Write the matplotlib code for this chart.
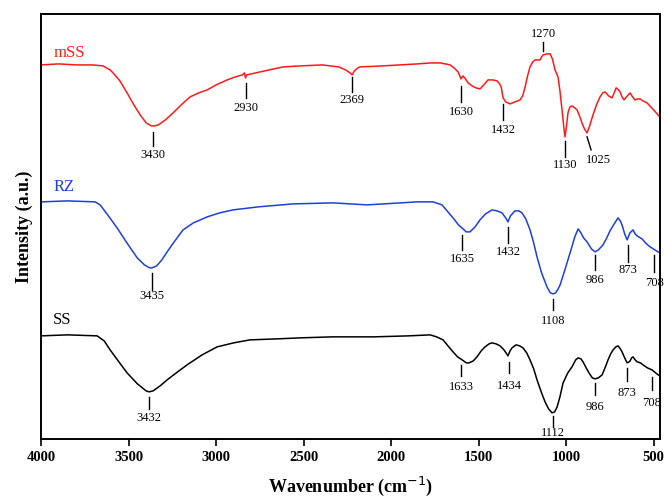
import matplotlib
matplotlib.use("Agg")
import matplotlib.pyplot as plt

plt.rcParams["font.family"] = ["Liberation Serif", "DejaVu Serif"]

# Spectra (wavenumber in cm-1, intensity in arbitrary units)
mss_wn = [4000, 3900, 3800, 3709, 3646, 3606, 3589, 3550, 3509, 3470, 3434, 3400,
          3370, 3354, 3330, 3290, 3246, 3200, 3149, 3100, 3051, 3000, 2937, 2890,
          2850, 2838, 2832, 2825, 2749, 2617, 2520, 2394, 2300, 2260, 2235, 2223,
          2210, 2190, 2177, 2050, 1949, 1850, 1771, 1720, 1690, 1663, 1640, 1617,
          1605, 1600, 1589, 1575, 1560, 1537, 1515, 1492, 1470, 1446, 1420, 1394,
          1380, 1371, 1360, 1345, 1320, 1305, 1292, 1263, 1248, 1234, 1220, 1206,
          1190, 1177, 1160, 1149, 1140, 1131, 1110, 1091, 1078, 1063, 1046, 1035,
          1023, 1013, 1006, 998, 989, 978, 966, 950, 937, 923, 909, 895, 880, 865,
          846, 826, 806, 790, 777, 757, 737, 725, 714, 700, 691, 680, 669, 650,
          634, 620, 606, 590, 577, 560, 537, 505, 474, 463]
mss_int = [374, 375, 374, 374, 373, 369, 366, 358, 346, 334, 324, 316,
           313, 313, 314, 319, 326, 334, 342, 346, 349, 354, 359, 362,
           364, 366, 361, 364, 367, 372, 373, 374, 372, 369, 366, 364,
           368, 371, 372, 373, 374, 375, 376, 376, 375, 374, 371, 367,
           362, 360, 363, 360, 356, 353, 351, 350, 354, 359, 359, 358,
           355, 352, 341, 337, 335, 336, 337, 339, 343, 352, 363, 372,
           377, 379, 379, 379, 382, 384, 385, 385, 380, 369, 362, 348,
           329, 312, 302, 312, 326, 332, 333, 331, 329, 323, 316, 310, 306, 313,
           324, 334, 342, 346, 347, 343, 341, 346, 351, 349, 347, 342, 339, 343,
           346, 342, 339, 340, 340, 338, 336, 330, 324, 321]

rz_wn = [4000, 3850, 3691, 3663, 3620, 3566, 3510, 3451, 3410, 3380, 3366, 3340,
         3310, 3280, 3240, 3189, 3130, 3051, 2980, 2903, 2760, 2560, 2331, 2137,
         1852, 1760, 1709, 1680, 1646, 1615, 1589, 1570, 1549, 1520, 1492, 1460,
         1423, 1395, 1366, 1345, 1332, 1318, 1292, 1270, 1252, 1230, 1206, 1185,
         1166, 1140, 1109, 1090, 1074, 1060, 1045, 1034, 1005, 977, 950, 931,
         915, 900, 880, 855, 834, 815, 789, 770, 749, 725, 703, 690, 680, 665,
         651, 635, 617, 605, 594, 566, 540, 520, 474, 463]
rz_int = [237, 238, 237, 234, 224, 211, 196, 181, 174, 171, 171, 173,
          179, 187, 197, 209, 216, 222, 226, 229, 232, 235, 236, 234,
          237, 237, 234, 228, 221, 214, 210, 207, 207, 212, 219, 225,
          229, 228, 226, 221, 217, 223, 228, 228, 226, 220, 209, 196,
          182, 166, 152, 146, 145, 146, 150, 154, 170, 186, 202, 210,
          206, 201, 197, 190, 187, 189, 194, 200, 208, 215, 221, 218, 214, 205,
          199, 206, 209, 205, 203, 200, 195, 192, 187, 186]

ss_wn = [4000, 3850, 3680, 3640, 3606, 3560, 3509, 3450, 3400, 3383, 3360, 3320,
         3280, 3220, 3166, 3080, 2994, 2900, 2806, 2650, 2520, 2337, 2100, 1900,
         1777, 1740, 1703, 1675, 1646, 1620, 1594, 1570, 1554, 1530, 1509, 1485,
         1463, 1440, 1423, 1400, 1377, 1355, 1343, 1332, 1320, 1309, 1286, 1265,
         1246, 1225, 1206, 1185, 1166, 1140, 1120, 1100, 1080, 1065, 1051, 1035,
         1017, 990, 966, 945, 931, 915, 903, 885, 869, 850, 834, 815, 794, 775,
         760, 745, 731, 715, 703, 690, 680, 665, 651, 640, 634, 625, 617, 605,
         594, 575, 560, 535, 509, 474, 463]
ss_int = [103, 104, 103, 98, 89, 78, 66, 55, 48, 47, 48, 53,
          59, 67, 74, 84, 92, 96, 99, 100, 101, 102, 102, 103,
          104, 102, 99, 93, 87, 82, 79, 76, 76, 78, 82, 88,
          92, 95, 96, 95, 93, 89, 86, 83, 88, 91, 94, 93,
          91, 86, 79, 70, 59, 46, 37, 30, 26, 27, 32, 42,
          56, 66, 72, 79, 81, 80, 77, 71, 66, 61, 60, 61, 64, 72,
          79, 85, 89, 92, 93, 90, 87, 81, 76, 77, 78, 81, 82, 79,
          77, 76, 74, 71, 69, 64, 63]

series_names = ["mSS", "RZ", "SS"]
series_colors = ["#ff1a1a", "#1f3fd6", "black"]

# Peak labels: text, wavenumber, tick top, tick bottom, text y
mss_peaks = [("3430", 3360, 307, 293, 284), ("2930", 2829, 356, 341, 331),
             ("2369", 2223, 362, 347, 339), ("1630", 1600, 353, 337, 327),
             ("1432", 1360, 335, 319, 309), ("1130", 1006, 298, 282, 274)]
rz_peaks = [("3435", 3366, 166, 149, 143), ("1635", 1594, 204, 189, 180),
            ("1432", 1332, 212, 196, 187), ("1108", 1074, 140, 129, 118),
            ("986", 834, 184, 169, 159), ("873", 646, 194, 177, 169),
            ("708", 497, 184, 167, 156)]
ss_peaks = [("3432", 3383, 42, 30, 21), ("1633", 1600, 74, 63, 52),
            ("1434", 1326, 77, 66, 53), ("1112", 1074, 23, 12, 6),
            ("986", 834, 56, 44, 32), ("873", 651, 71, 58, 46),
            ("708", 509, 62, 49, 36)]

fig = plt.figure(figsize=(6.64, 4.97), dpi=100)
ax = fig.add_axes([0.062, 0.117, 0.932, 0.855])

for wn, inten, c in [(mss_wn, mss_int, series_colors[0]),
                     (rz_wn, rz_int, series_colors[1]),
                     (ss_wn, ss_int, series_colors[2])]:
    ax.plot(wn, inten, color=c, lw=1.1)

for peaks in [mss_peaks, rz_peaks, ss_peaks]:
    for txt, w, y0, y1, ty in peaks:
        ax.plot([w, w], [y0, y1], color="black", lw=1.0)
        ax.text(w, ty, txt, ha="center", va="center", fontsize=9)

# 1270 above the mSS maximum, 1025 with a slanted tick
ax.plot([1131, 1131], [397, 388], color="black", lw=1.0)
ax.text(1131, 405, "1270", ha="center", va="center", fontsize=9)
ax.plot([880, 857], [302, 289], color="black", lw=1.0)
ax.text(817, 279, "1025", ha="center", va="center", fontsize=9)

for name, c, y in zip(series_names, series_colors, [386, 252, 119]):
    ax.text(3931, y, name, color=c, ha="left", va="center", fontsize=12)

ax.set_xlim(4000, 463)
ax.set_ylim(0, 425)
ax.set_xticks([4000, 3500, 3000, 2500, 2000, 1500, 1000, 500])
ax.set_yticks([])
ax.tick_params(axis="x", direction="out", length=5, width=1.2, labelsize=10.5)
for lab in ax.get_xticklabels():
    lab.set_fontweight("bold")
for sp in ax.spines.values():
    sp.set_linewidth(1.4)

ax.set_xlabel("Wavenumber (cm$^{-1}$)", fontsize=13, fontweight="bold", labelpad=8)
ax.set_ylabel("Intensity (a.u.)", fontsize=13, fontweight="bold", labelpad=6)

fig.savefig("out.png", dpi=100)
